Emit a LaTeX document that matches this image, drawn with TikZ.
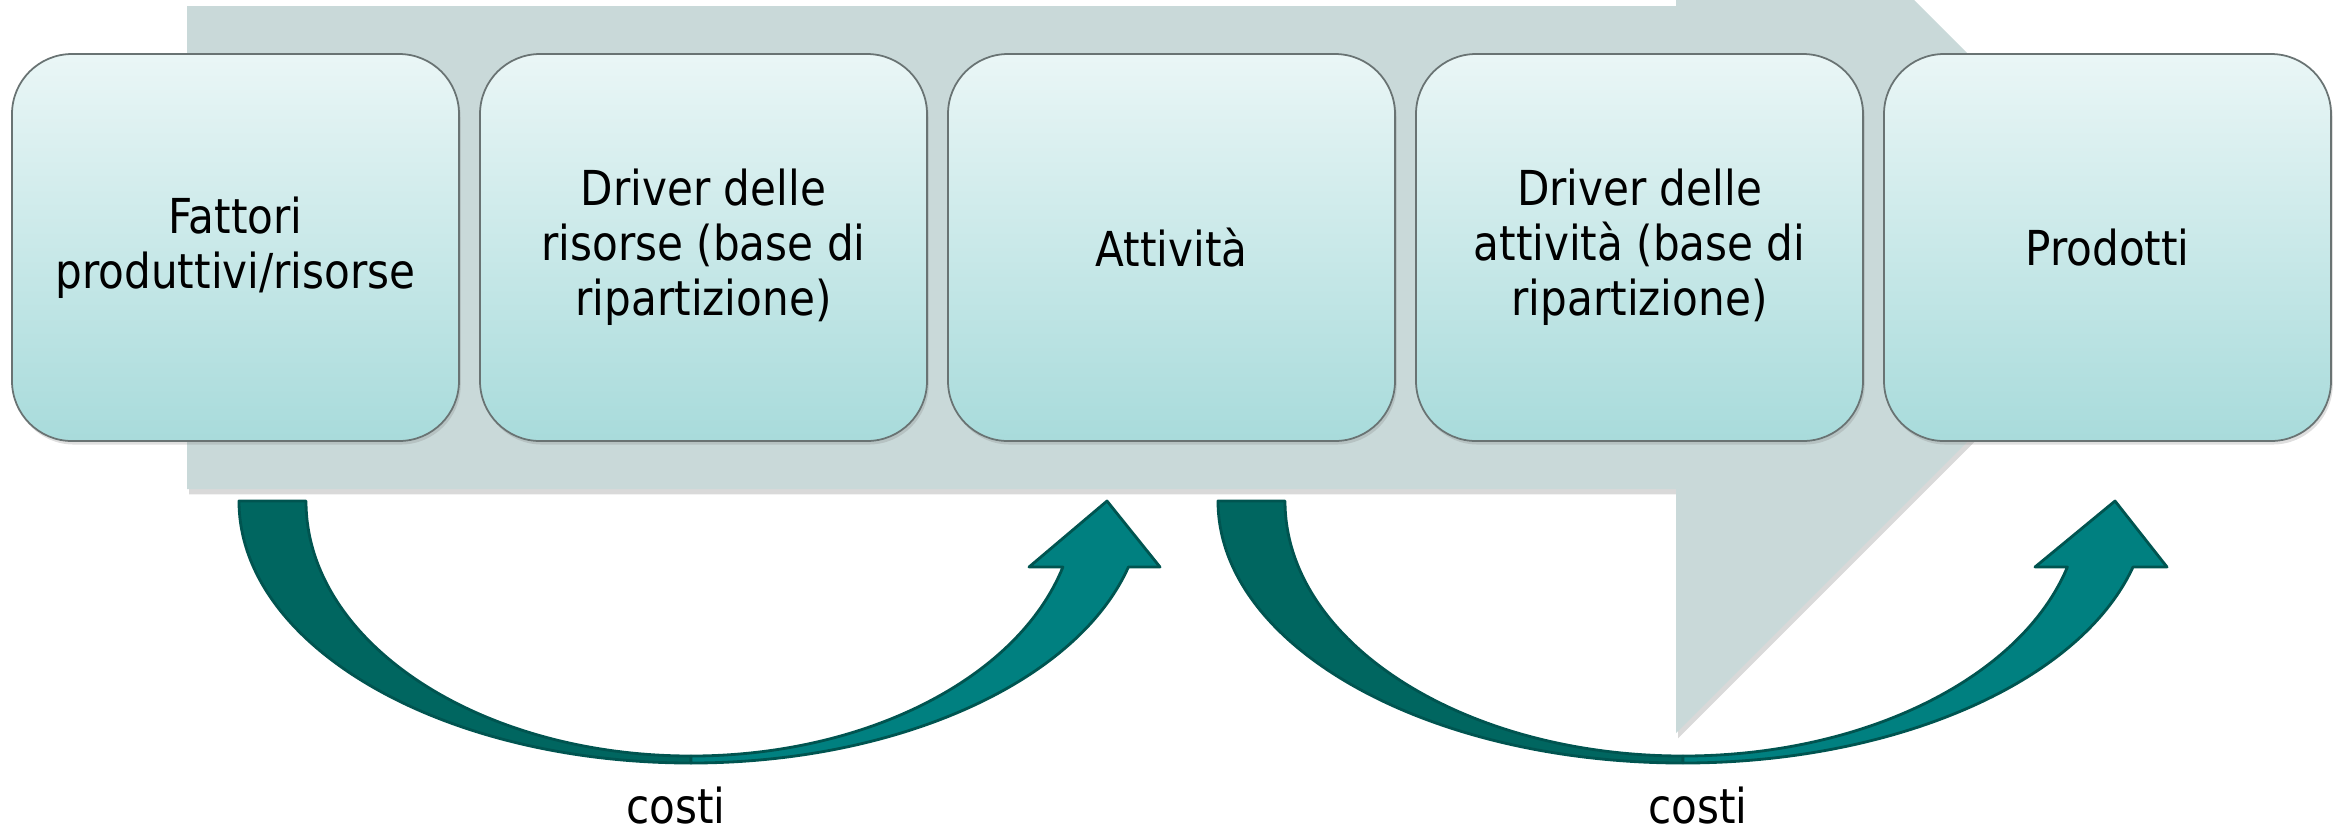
\documentclass[tikz,border=0pt]{standalone}
\usepackage{fontspec}
\setmainfont{DejaVu Sans}[FakeStretch=0.875]
\usetikzlibrary{shadows}

\definecolor{flowgray}{RGB}{201,217,217}
\definecolor{boxtop}{RGB}{234,246,246}
\definecolor{boxbottom}{RGB}{168,219,219}
\definecolor{boxline}{RGB}{105,115,115}
\definecolor{costdark}{RGB}{0,102,96}
\definecolor{costteal}{RGB}{0,128,128}
\definecolor{costline}{RGB}{0,84,80}

\begin{document}
\begin{tikzpicture}[
    every node/.style={font=\fontsize{13.7}{15.7}\selectfont},
    phase/.style={draw=boxline, line width=0.5pt, rounded corners=0.6cm,
      top color=boxtop, bottom color=boxbottom, align=center,
      minimum width=4.47cm, minimum height=3.87cm,
      drop shadow={opacity=0.25, shadow xshift=0.5pt, shadow yshift=-1pt}},
    backband/.style={fill=costdark, draw=costline, line width=0.8pt, line join=round},
    frontband/.style={fill=costteal, draw=costline, line width=0.8pt, line join=round}
  ]
  \useasboundingbox (0,0) rectangle (23.44,-8.30);
  \clip (0,0) rectangle (23.44,-8.30);

  % big flow arrow behind the boxes
  \fill[flowgray, drop shadow={opacity=0.3, shadow xshift=0.6pt, shadow yshift=-1.5pt}]
    (1.87,-0.06) -- (16.76,-0.06) -- (16.76,2.38) -- (21.615,-2.475)
    -- (16.76,-7.33) -- (16.76,-4.89) -- (1.87,-4.89) -- cycle;

  \node[phase] (fattori) at (2.355,-2.475) {Fattori\\produttivi/risorse};
  \node[phase] (drivrisorse) at (7.035,-2.475) {Driver delle\\risorse (base di\\ripartizione)};
  \node[phase] (attivita) at (11.715,-2.475) {Attività};
  \node[phase] (drivattivita) at (16.395,-2.475) {Driver delle\\attività (base di\\ripartizione)};
  \node[phase] (prodotti) at (21.075,-2.475) {Prodotti};

  % first cost arrow
  \begin{scope}[shift={(6.91,-5.01)}]
    \filldraw[backband] (-4.52,0) arc[start angle=180, end angle=270, x radius=4.52, y radius=2.62]
      -- (0,-2.55) arc[start angle=270, end angle=180, x radius=3.85, y radius=2.55] -- cycle;
    \filldraw[frontband] (0,-2.62) arc[start angle=270, end angle=345.4, x radius=4.52, y radius=2.62]
      -- (4.69,-0.66) -- (4.16,0) -- (3.38,-0.66) -- (3.719,-0.66)
      arc[start angle=345, end angle=270, x radius=3.85, y radius=2.55] -- cycle;
  \end{scope}
  \node[anchor=base] (costi1) at (6.76,-8.23) {costi};

  % second cost arrow
  \begin{scope}[shift={(16.83,-5.01)}]
    \filldraw[backband] (-4.65,0) arc[start angle=180, end angle=270, x radius=4.65, y radius=2.62]
      -- (0,-2.55) arc[start angle=270, end angle=180, x radius=3.98, y radius=2.55] -- cycle;
    \filldraw[frontband] (0,-2.62) arc[start angle=270, end angle=345.4, x radius=4.65, y radius=2.62]
      -- (4.84,-0.66) -- (4.32,0) -- (3.52,-0.66) -- (3.844,-0.66)
      arc[start angle=345, end angle=270, x radius=3.98, y radius=2.55] -- cycle;
  \end{scope}
  \node[anchor=base] (costi2) at (16.98,-8.23) {costi};
\end{tikzpicture}
\end{document}
